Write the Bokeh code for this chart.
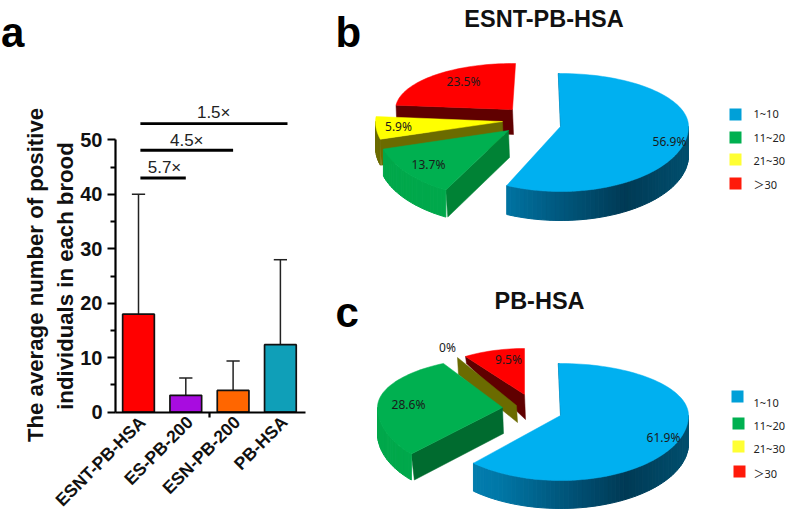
import math
from bokeh.plotting import figure
from bokeh.layouts import row, column
from bokeh.models import Range1d, FixedTicker
from bokeh.core.properties import value
from bokeh.embed import file_html
from bokeh.resources import INLINE

# ---------- data ----------
groups = ["ESNT-PB-HSA", "ES-PB-200", "ESN-PB-200", "PB-HSA"]
means = [18.0, 3.1, 4.0, 12.4]
err_tops = [40.0, 6.3, 9.4, 28.0]
bar_colors = ["#ff0000", "#a80ce0", "#ff6600", "#0f9fb8"]
fold_labels = ["5.7×", "4.5×", "1.5×"]
fold_levels = [43.0, 48.1, 53.0]
fold_ends = [2.0, 3.0, 4.15]
y_ticks = [0, 10, 20, 30, 40, 50]
y_minor = [5, 15, 25, 35, 45]

classes = ["1~10", "11~20", "21~30", "＞30"]
esnt_shares = [56.9, 13.7, 5.9, 23.5]
pb_shares = [61.9, 28.6, 0.0, 9.5]
legend_colors = ["#00a0d8", "#00b050", "#ffff33", "#ff1a0a"]

SANS = "Liberation Sans"
PIEFONT = "Noto Sans"

# ---------- bar panel ----------
BW, BH = 330, 530
PXX, PXY = 47.3, 5.446
x0 = 1 - 138 / PXX
y0 = -(530 - 411.7) / PXY
bar = figure(width=BW, height=BH, output_backend="svg", toolbar_location=None, min_border=0,
             x_range=Range1d(x0, x0 + BW / PXX), y_range=Range1d(y0, y0 + BH / PXY))
bar.grid.visible = False
bar.outline_line_color = None
xs = [i + 1 for i in range(len(groups))]

bar.segment(xs, means, xs, err_tops, line_color="#222222", line_width=1.5)
bar.segment([x - 0.14 for x in xs], err_tops, [x + 0.14 for x in xs], err_tops,
            line_color="#222222", line_width=1.5)
bar.vbar(x=xs, top=means, bottom=0, width=0.67, fill_color=bar_colors,
         line_color="#111111", line_width=1.7)

bar.segment([1.04] * 3, fold_levels, fold_ends, fold_levels, line_color="black", line_width=2.8)
bar.text([1.55, 2.02, 2.59], [45.0, 49.9, 55.0], text=fold_labels, text_font=value(SANS),
         text_font_size="17px", text_color="#222222", text_align="center", text_baseline="middle")

ax = bar.yaxis[0]
ax.fixed_location = 1 - (138 - 115) / PXX
ax.bounds = (0, 50)
ax.ticker = FixedTicker(ticks=y_ticks, minor_ticks=y_minor)
ax.axis_line_width = 2.2
ax.major_tick_line_width = 2.2
ax.minor_tick_line_width = 2.2
ax.major_tick_out = 8
ax.major_tick_in = 0
ax.minor_tick_out = 5
ax.minor_tick_in = 0
ax.major_label_text_font = SANS
ax.major_label_text_font_style = "bold"
ax.major_label_text_font_size = "20px"
ax.major_label_text_color = "#111111"

LABEL_SHIFT = 0.085
label_ticks = [x + LABEL_SHIFT for x in xs]
bx = bar.xaxis[0]
bx.fixed_location = 0
bx.bounds = (1 - (138 - 115) / PXX, 1 + (305 - 138) / PXX)
bx.ticker = FixedTicker(ticks=label_ticks, minor_ticks=[2.5])
bx.major_label_overrides = {x: g for x, g in zip(label_ticks, groups)}
bx.major_label_orientation = math.pi / 4
bx.major_label_standoff = 2
bx.axis_line_width = 2.2
bx.major_tick_out = 0
bx.major_tick_in = 0
bx.minor_tick_out = 5
bx.minor_tick_in = 0
bx.minor_tick_line_width = 2.2
bx.major_label_text_font = SANS
bx.major_label_text_font_style = "bold"
bx.major_label_text_font_size = "17.5px"
bx.major_label_text_color = "#111111"

def bx_data(px):
    return 1 + (px - 138) / PXX

bar.text([bx_data(35), bx_data(65)], [25.2, 25.0],
         text=["The average number of positive", "individuals in each brood"],
         angle=math.pi / 2, text_font=value(SANS), text_font_style="bold", text_font_size="22.2px",
         text_color="#111111", text_align="center", text_baseline="middle")
bar.text([bx_data(0.5)], [(411.7 - 32) / PXY], text=["a"], text_font=value(SANS), text_font_style="bold",
         text_font_size="42px", text_color="black", text_align="left", text_baseline="alphabetic")

# ---------- pie helpers ----------
def mix(c1, c2, t):
    a = [int(c1[i:i + 2], 16) for i in (1, 3, 5)]
    b = [int(c2[i:i + 2], 16) for i in (1, 3, 5)]
    return "#%02x%02x%02x" % tuple(round(u + (v - u) * t) for u, v in zip(a, b))

def ramp(stops, t):
    n = len(stops) - 1
    i = min(int(t * n), n - 1)
    return mix(stops[i], stops[i + 1], t * n - i)

def point(g, a):
    s, c = math.sin(math.radians(a)), math.cos(math.radians(a))
    return g["x"] + g["rx"] * s, g["y"] - (g["up"] if c > 0 else g["down"]) * c

def draw_slice(p, g, a0, a1, top, side_stops, face):
    # da0/da1: small perspective corrections of the drawn edges
    a0 += g.get("da0", 0)
    a1 += g.get("da1", 0)
    ox, oy = point(g, a0)
    th, tho = g["th"], g.get("tho", g["th"])
    if g.get("sliver"):
        p.patch([ox, g["x"], g["x"] + 2, ox + 1], [oy, g["y"], g["y"], oy],
                fill_color=face, line_color=face, line_width=0.5)
    else:
        p.patch([g["x"], ox, ox + g.get("dxo", 1), g["x"] + 1],
                [g["y"], oy, oy + tho, g["y"] + th],
                fill_color=face, line_color=face, line_width=0.5)
    lo, hi = max(a0, 90.0), min(a1, 270.0)
    if hi > lo:
        n = max(2, int((hi - lo) / 2))
        ang = [lo + (hi - lo) * i / n for i in range(n + 1)]
        for k in range(n):
            xa, ya = point(g, ang[k])
            xb, yb = point(g, ang[k + 1])
            xm = (xa + xb) / 2
            t = (g["x"] + g["rx"] - xm) / (2 * g["rx"])
            col = ramp(side_stops, max(0, min(1, t)))
            p.patch([xa, xb, xb, xa], [ya, yb, yb + th, ya + th],
                    fill_color=col, line_color=col, line_width=1)
    if a1 > a0:
        n = max(2, int((a1 - a0) / 2))
        pts = [point(g, a0 + (a1 - a0) * i / n) for i in range(n + 1)]
        p.patch([g["x"]] + [q[0] for q in pts], [g["y"]] + [q[1] for q in pts],
                fill_color=top, line_color=top, line_width=0.5)

TOPS = ["#00b0f0", "#00b050", "#ffff00", "#ff0000"]
SIDES = [["#004f6e", "#003a55", "#00577d", "#0078a8", "#0a86b8"],
         ["#007c36", "#007c36", "#008a3e", "#00a84b", "#00a84b"],
         ["#6b6b00", "#6b6b00"],
         ["#600000", "#600000"]]

def pie_panel(h, top_px, title, title_xy, shares, geoms, faces, label_pos, label_text,
              sq_pos, txt_y, letter, letter_base):
    p = figure(width=457, height=h, output_backend="svg", toolbar_location=None, min_border=0,
               x_range=Range1d(330, 787), y_range=Range1d(top_px + h, top_px))
    p.grid.visible = False
    p.axis.visible = False
    p.outline_line_color = None
    edges = [0.0]
    for s in shares:
        edges.append(edges[-1] + s * 3.6)
    edges[-1] = 360.0
    for i in (3, 2, 1, 0):
        draw_slice(p, geoms[i], edges[i], edges[i + 1], TOPS[i], SIDES[i], faces[i])
    p.text([q[0] for q in label_pos], [q[1] for q in label_pos], text=label_text,
           text_font=value(PIEFONT), text_font_size="12px", text_color="#1a1a1a",
           text_align="center", text_baseline="middle")
    p.text([title_xy[0]], [title_xy[1]], text=[title], text_font=value(SANS), text_font_style="bold",
           text_font_size="23.5px", text_color="#111111", text_align="center", text_baseline="middle")
    p.text([335], [letter_base], text=[letter], text_font=value(SANS), text_font_style="bold",
           text_font_size="42px", text_color="black", text_align="left", text_baseline="alphabetic")
    p.scatter([q[0] for q in sq_pos], [q[1] for q in sq_pos], marker="square", size=12,
              fill_color=legend_colors, line_color=None)
    p.text([753] * 4, txt_y, text=classes, text_font=value("Noto Sans, Noto Sans CJK SC"),
           text_font_size="11px", text_color="#222222", text_align="left", text_baseline="middle")
    return p

geoms_b = [
    dict(x=560, y=126, rx=128, up=53, down=65, th=29, sliver=True, da0=-1),
    dict(x=508, y=130, rx=130, up=53, down=68, th=27, da0=4, dxo=2),
    dict(x=502, y=121, rx=127, up=53, down=65, th=26),
    dict(x=512, y=109, rx=117, up=46, down=60, th=25, da1=1.5),
]
geoms_c = [
    dict(x=560, y=415, rx=128, up=52, down=65, th=28, sliver=True, da0=-1),
    dict(x=502, y=407, rx=125, up=50, down=68, th=26, dxo=3, da0=4, da1=6),
    dict(x=516, y=405, rx=105, up=58, down=60, th=17),
    dict(x=524, y=394, rx=105, up=46, down=60, th=25, tho=7),
]
pb = pie_panel(285, 0, "ESNT-PB-HSA", (543.5, 18), esnt_shares, geoms_b,
               ["#00405c", "#008235", "#6b6b00", "#600000"],
               [(669, 141), (428, 164), (398, 126), (463, 81)],
               ["56.9%", "13.7%", "5.9%", "23.5%"],
               [(735, 114), (735, 137), (735, 159), (735, 183)], [113, 137, 160, 184], "b", 32)
pc = pie_panel(245, 285, "PB-HSA", (539, 300), pb_shares, geoms_c,
               ["#00405c", "#006b2f", "#6b6b00", "#600000"],
               [(663, 437), (408, 404), (447, 347), (508, 359)],
               ["61.9%", "28.6%", "0%", "9.5%"],
               [(737, 396), (738, 423), (738, 446), (739, 471)], [402, 425, 448, 473], "c", 312)

layout = row(bar, column(pb, pc, spacing=0), spacing=0)
open("out.html", "w").write(file_html(layout, INLINE))
